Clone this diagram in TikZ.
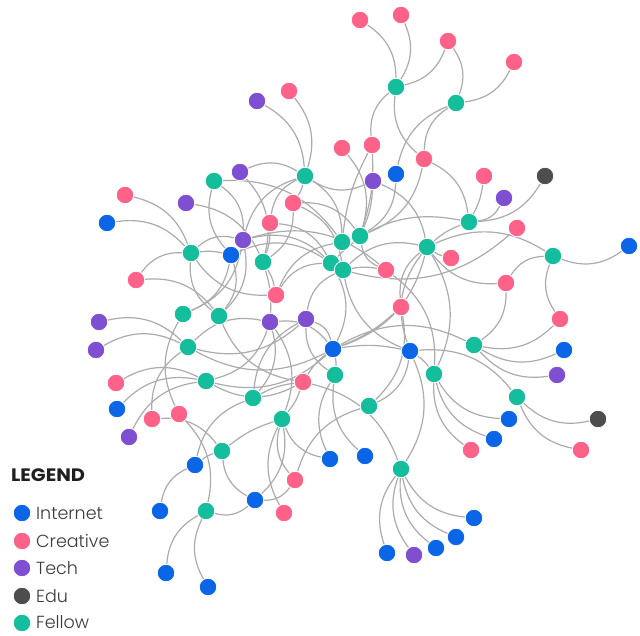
\documentclass[tikz,border=0pt]{standalone}
\usepackage{fontspec}
\setmainfont{Poppins}[UprightFont=* Light, BoldFont=* Bold]
\usetikzlibrary{backgrounds}
\definecolor{cint}{HTML}{0A66E6}
\definecolor{ccre}{HTML}{FF6289}
\definecolor{ctec}{HTML}{7E4FD0}
\definecolor{cedu}{HTML}{4D4D4D}
\definecolor{cfel}{HTML}{14BD9C}
\definecolor{cedge}{HTML}{ABABAB}
\definecolor{ctext}{HTML}{3A3A3A}
\tikzset{
  dot/.style={circle, minimum size=17.5pt, inner sep=0pt, draw=white, line width=0.8pt},
  int/.style={dot, fill=cint},
  cre/.style={dot, fill=ccre},
  tec/.style={dot, fill=ctec},
  edu/.style={dot, fill=cedu},
  fel/.style={dot, fill=cfel},
  e/.style={draw=cedge, line width=1.2pt, bend left=28},
  e2/.style={draw=cedge, line width=1.2pt, bend left=10},
  legtext/.style={anchor=west, text=ctext, font=\fontsize{17.5}{19}\selectfont, inner sep=0pt},
}
\begin{document}
\begin{tikzpicture}[x=1pt,y=-1pt]
\useasboundingbox (0,0) rectangle (640,636);
% Fellows
\node[fel] (F1) at (396,87) {};
\node[fel] (F2) at (456,103) {};
\node[fel] (F3) at (305,176) {};
\node[fel] (F4) at (214,181) {};
\node[fel] (F5) at (469,222) {};
\node[fel] (F6) at (191,253) {};
\node[fel] (F7) at (263,262) {};
\node[fel] (F8) at (342,242) {};
\node[fel] (F9) at (360,236) {};
\node[fel] (F10) at (331,263) {};
\node[fel] (F11) at (343,270) {};
\node[fel] (F12) at (427,247) {};
\node[fel] (F13) at (553,256) {};
\node[fel] (F14) at (183,314) {};
\node[fel] (F15) at (219,316) {};
\node[fel] (F16) at (188,347) {};
\node[fel] (F17) at (474,345) {};
\node[fel] (F18) at (206,381) {};
\node[fel] (F19) at (335,375) {};
\node[fel] (F20) at (253,398) {};
\node[fel] (F21) at (434,374) {};
\node[fel] (F22) at (282,419) {};
\node[fel] (F23) at (369,406) {};
\node[fel] (F24) at (517,397) {};
\node[fel] (F25) at (222,451) {};
\node[fel] (F26) at (401,469) {};
\node[fel] (F27) at (206,511) {};
% Creative
\node[cre] (C1) at (360,20) {};
\node[cre] (C2) at (401,15) {};
\node[cre] (C3) at (448,41) {};
\node[cre] (C4) at (514,62) {};
\node[cre] (C5) at (289,91) {};
\node[cre] (C6) at (342,148) {};
\node[cre] (C7) at (372,145) {};
\node[cre] (C8) at (424,159) {};
\node[cre] (C9) at (484,176) {};
\node[cre] (C10) at (293,203) {};
\node[cre] (C11) at (125,195) {};
\node[cre] (C12) at (270,223) {};
\node[cre] (C13) at (517,228) {};
\node[cre] (C14) at (136,280) {};
\node[cre] (C15) at (451,258) {};
\node[cre] (C16) at (386,270) {};
\node[cre] (C17) at (276,295) {};
\node[cre] (C18) at (506,283) {};
\node[cre] (C19) at (401,307) {};
\node[cre] (C20) at (560,319) {};
\node[cre] (C21) at (303,382) {};
\node[cre] (C22) at (116,383) {};
\node[cre] (C23) at (179,414) {};
\node[cre] (C24) at (152,419) {};
\node[cre] (C25) at (471,450) {};
\node[cre] (C26) at (581,450) {};
\node[cre] (C27) at (295,480) {};
\node[cre] (C28) at (284,513) {};
% Tech
\node[tec] (T1) at (257,101) {};
\node[tec] (T2) at (240,172) {};
\node[tec] (T3) at (373,181) {};
\node[tec] (T4) at (504,198) {};
\node[tec] (T5) at (186,203) {};
\node[tec] (T6) at (243,240) {};
\node[tec] (T7) at (99,322) {};
\node[tec] (T8) at (270,322) {};
\node[tec] (T9) at (306,319) {};
\node[tec] (T10) at (96,350) {};
\node[tec] (T11) at (557,375) {};
\node[tec] (T12) at (129,437) {};
\node[tec] (T13) at (414,555) {};
% Internet
\node[int] (I1) at (396,174) {};
\node[int] (I2) at (107,223) {};
\node[int] (I3) at (231,255) {};
\node[int] (I4) at (629,246) {};
\node[int] (I5) at (333,349) {};
\node[int] (I6) at (410,351) {};
\node[int] (I7) at (564,350) {};
\node[int] (I8) at (117,409) {};
\node[int] (I9) at (509,419) {};
\node[int] (I10) at (494,439) {};
\node[int] (I11) at (195,465) {};
\node[int] (I12) at (330,459) {};
\node[int] (I13) at (365,456) {};
\node[int] (I14) at (255,500) {};
\node[int] (I15) at (160,511) {};
\node[int] (I16) at (474,518) {};
\node[int] (I17) at (456,537) {};
\node[int] (I18) at (436,548) {};
\node[int] (I19) at (387,553) {};
\node[int] (I20) at (166,573) {};
\node[int] (I21) at (208,587) {};
% Edu
\node[edu] (E1) at (545,176) {};
\node[edu] (E2) at (598,419) {};

\begin{scope}[on background layer]
% top
\draw[e] (C1) to (F1);
\draw[e] (C2) to (F1);
\draw[e] (C3) to (F1);
\draw[e] (C3) to (F2);
\draw[e] (C4) to (F2);
\draw[e] (C7) to (F1);
\draw[e] (C8) to (F1);
\draw[e] (C8) to (F2);
\draw[e] (I1) to (F2);
\draw[e] (C5) to (F3);
\draw[e] (T1) to (F3);
\draw[e] (T2) to (F3);
\draw[e] (T3) to (F3);
\draw[e] (C6) to (F9);
\draw[e2] (C7) to (F9);
\draw[e2] (F8) to (C7);
\draw[e2] (T3) to (F9);
\draw[e] (I1) to (F9);
\draw[e] (C8) to (F9);
\draw[e] (C8) to (F5);
\draw[e2] (C9) to (F5);
\draw[e] (T4) to (F5);
\draw[e] (E1) to (F5);
\draw[e2] (F12) to (F5);
\draw[e] (F10) to (F5);
\draw[e] (T3) to (F12);
\draw[e] (C13) to (F11);
\draw[e2] (C15) to (F12);
\draw[e] (F12) to (F13);
\draw[e] (I4) to (F13);
\draw[e] (C18) to (F13);
\draw[e] (C20) to (F13);
\draw[e] (C18) to (F12);
\draw[e] (C18) to (F17);
\draw[e] (C20) to (F17);
\draw[e] (I7) to (F17);
\draw[e] (T11) to (F17);
\draw[e] (I5) to (F17);
\draw[e] (I6) to (F24);
\draw[e] (E2) to (F24);
\draw[e] (C26) to (F24);
\draw[e] (I9) to (F21);
\draw[e] (I10) to (F21);
\draw[e] (C25) to (F21);
\draw[e2] (I6) to (F21);
\draw[e] (I16) to (F26);
\draw[e] (I17) to (F26);
\draw[e] (I18) to (F26);
\draw[e] (T13) to (F26);
\draw[e] (I19) to (F26);
\draw[e] (I6) to (F26);
\draw[e] (C21) to (F26);
\draw[e] (C19) to (F23);
\draw[e] (I6) to (F23);
\draw[e] (C16) to (F21);
\draw[e] (C16) to (F9);
\draw[e] (T6) to (C16);
\draw[e2] (F11) to (C16);
\draw[e] (C19) to (F12);
\draw[e2] (C19) to (I5);
\draw[e] (F12) to (I5);
\draw[e] (F12) to (F21);
\draw[e] (F11) to (F12);
% centre and left
\draw[e2] (F3) to (C10);
\draw[e] (C12) to (F3);
\draw[e] (F3) to (F8);
\draw[e] (T6) to (F3);
\draw[e] (I3) to (F4);
\draw[e] (F4) to (T6);
\draw[e] (F4) to (F8);
\draw[e] (T2) to (F7);
\draw[e2] (C12) to (F7);
\draw[e] (C12) to (F10);
\draw[e] (C10) to (F7);
\draw[e] (C10) to (F9);
\draw[e] (C10) to (F11);
\draw[e2] (F6) to (I3);
\draw[e] (F6) to (T6);
\draw[e] (C11) to (F6);
\draw[e] (I2) to (F6);
\draw[e] (C14) to (F6);
\draw[e] (C14) to (F15);
\draw[e] (T5) to (F7);
\draw[e] (C17) to (F6);
\draw[e] (F15) to (F6);
\draw[e] (I3) to (F14);
\draw[e] (T6) to (F14);
\draw[e] (I3) to (F15);
\draw[e] (T6) to (F15);
\draw[e] (T6) to (F10);
\draw[e] (I3) to (F10);
\draw[e2] (F7) to (C17);
\draw[e2] (F7) to (T8);
\draw[e] (C17) to (F10);
\draw[e] (C17) to (F8);
\draw[e] (F16) to (T8);
\draw[e] (T8) to (F18);
\draw[e] (T8) to (F20);
\draw[e] (T8) to (F22);
\draw[e] (T8) to (I5);
\draw[e] (T9) to (F16);
\draw[e] (T9) to (I5);
\draw[e] (F19) to (T9);
\draw[e] (T9) to (F11);
\draw[e] (F20) to (T9);
\draw[e] (I5) to (F16);
\draw[e2] (I5) to (F19);
\draw[e] (C21) to (F18);
\draw[e] (I5) to (F18);
\draw[e2] (F20) to (C21);
\draw[e] (I11) to (F20);
\draw[e] (C21) to (F15);
\draw[e2] (C21) to (F22);
\draw[e] (I12) to (F22);
\draw[e] (C28) to (F22);
\draw[e] (C27) to (F22);
\draw[e] (F22) to (I14);
\draw[e2] (F25) to (F22);
\draw[e] (C24) to (F25);
\draw[e2] (I11) to (F25);
\draw[e] (I14) to (F25);
\draw[e] (I15) to (I11);
\draw[e] (I20) to (F27);
\draw[e] (I21) to (F27);
\draw[e] (I14) to (F27);
\draw[e] (C23) to (F27);
\draw[e] (C23) to (F14);
\draw[e] (C27) to (I14);
\draw[e] (C27) to (F23);
\draw[e] (C24) to (F16);
\draw[e] (T12) to (F18);
\draw[e] (I8) to (F18);
\draw[e] (C22) to (F18);
\draw[e] (T7) to (F16);
\draw[e] (T10) to (F16);
\draw[e] (I12) to (F19);
\draw[e] (I13) to (F19);
\draw[e2] (C21) to (I5);
\draw[e] (F10) to (I5);
\draw[e] (I6) to (F11);
\draw[e2] (I5) to (I6);
\draw[e] (I6) to (F12);
\end{scope}

% legend
\node[anchor=west, inner sep=0pt, text=black!88, font=\fontsize{18}{20}\selectfont\bfseries] (lg) at (11,475) {\scalebox{1.08}[1]{LEGEND}};
\node[int] (l1) at (22,513) {};
\node[cre] (l2) at (22,541) {};
\node[tec] (l3) at (22,568) {};
\node[edu] (l4) at (22,596) {};
\node[fel] (l5) at (22,623) {};
\node[legtext] (t1) at (36,513) {Internet};
\node[legtext] (t2) at (36,541) {Creative};
\node[legtext] (t3) at (36,568) {Tech};
\node[legtext] (t4) at (36,596) {Edu};
\node[legtext] (t5) at (36,622) {Fellow};
\end{tikzpicture}
\end{document}
